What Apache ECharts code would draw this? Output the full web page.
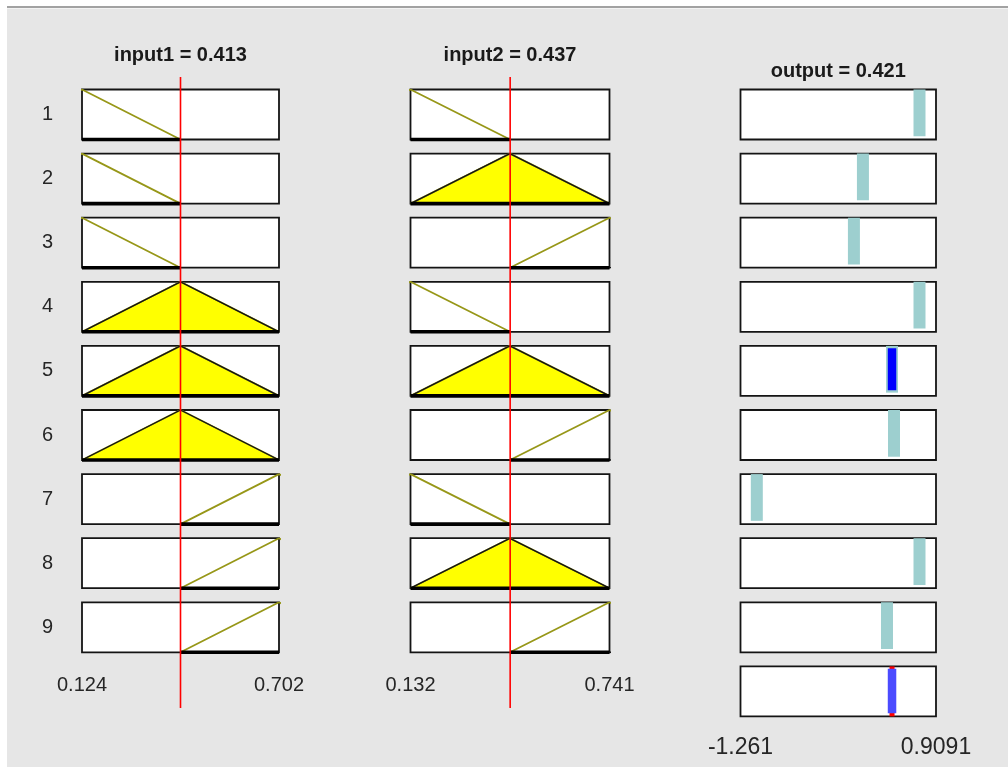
<!DOCTYPE html>
<html>
<head>
<meta charset="utf-8">
<script src="https://cdn.jsdelivr.net/npm/echarts@6/dist/echarts.min.js"></script>
<style>
  html, body { margin: 0; padding: 0; background: #ffffff; }
  #chart { width: 1008px; height: 767px; }
</style>
</head>
<body>
<div id="chart"></div>
<script>
// Rule view of a two-input, nine-rule Sugeno fuzzy system
const input1Name = 'input1';
const input2Name = 'input2';
const outputName = 'output';
const input1Range = [0.124, 0.702];
const input2Range = [0.132, 0.741];
const outputRange = [-1.261, 0.9091];
const input1Value = 0.413;
const input2Value = 0.437;
const outputValue = 0.421;
const input1TickLabels = ['0.124', '0.702'];
const input2TickLabels = ['0.132', '0.741'];
const outputTickLabels = ['-1.261', '0.9091'];
// triangular membership functions [a, b, c]: low, mid, high
const input1MFs = [[-0.165, 0.124, 0.413], [0.124, 0.413, 0.702], [0.413, 0.702, 0.991]];
const input2MFs = [[-0.1725, 0.132, 0.4365], [0.132, 0.4365, 0.741], [0.4365, 0.741, 1.0455]];
// rule antecedents (MF index per input) and constant consequents
const ruleInput1 = [0, 0, 0, 1, 1, 1, 2, 2, 2];
const ruleInput2 = [0, 1, 2, 0, 1, 2, 0, 1, 2];
const ruleOutputs = [0.726, 0.098, -0.002, 0.726, 0.421, 0.443, -1.08, 0.726, 0.365];
const ruleLabels = ['1', '2', '3', '4', '5', '6', '7', '8', '9'];

const FONT = "'Liberation Sans', Arial, sans-serif";
const COLS = [
  { left: 82, width: 197 },
  { left: 410.5, width: 199 },
  { left: 740.5, width: 195.5 }
];
const ROW_TOP = 89.5, ROW_STEP = 64.1, ROW_H = 50;
const OUT_YMIN = -0.07;
const FIRED_INSET = 0.05;

function membership(x, mf) {
  const [a, b, c] = mf;
  const up = b === a ? 1 : (x - a) / (b - a);
  const down = c === b ? 1 : (c - x) / (c - b);
  return Math.max(0, Math.min(up, down));
}

const grid = [], xAxis = [], yAxis = [], series = [];
const hidden = { show: false };

function addGrid(g, xr, yr, opts) {
  const gi = grid.length;
  grid.push(Object.assign({
    show: true, backgroundColor: '#ffffff', borderColor: '#141414', borderWidth: 1.8
  }, g));
  xAxis.push(Object.assign({
    gridIndex: gi, type: 'value', min: xr[0], max: xr[1],
    axisLine: hidden, axisTick: hidden, splitLine: hidden, axisLabel: hidden, show: true
  }, opts.x || {}));
  yAxis.push(Object.assign({
    gridIndex: gi, type: 'value', min: yr[0], max: yr[1],
    axisLine: hidden, axisTick: hidden, splitLine: hidden, axisLabel: hidden, show: true
  }, opts.y || {}));
  return gi;
}

function line(gi, data, style, extra) {
  series.push(Object.assign({
    type: 'line', xAxisIndex: gi, yAxisIndex: gi, data: data,
    symbol: 'none', silent: true, animation: false, lineStyle: style
  }, extra || {}));
}

const inputs = [
  { name: input1Name, range: input1Range, value: input1Value, mfs: input1MFs, rule: ruleInput1, ticks: input1TickLabels },
  { name: input2Name, range: input2Range, value: input2Value, mfs: input2MFs, rule: ruleInput2, ticks: input2TickLabels }
];

// firing strength of each rule (min of antecedent memberships)
const strengths = ruleLabels.map((_, r) =>
  Math.min(...inputs.map(inp => membership(inp.value, inp.mfs[inp.rule[r]]))));

inputs.forEach((inp, c) => {
  for (let r = 0; r < ruleLabels.length; r++) {
    const mf = inp.mfs[inp.rule[r]];
    const d = membership(inp.value, mf);
    const xOpts = {};
    if (r === 0) {
      Object.assign(xOpts, {
        position: 'top', name: inp.name + ' = ' + inp.value,
        nameLocation: 'middle', nameGap: 34,
        nameTextStyle: { fontFamily: FONT, fontWeight: 'bold', fontSize: 20, color: '#1a1a1a', verticalAlign: 'middle' }
      });
    }
    if (r === ruleLabels.length - 1) {
      Object.assign(xOpts, {
        position: 'bottom',
        axisLabel: {
          show: true, customValues: inp.range, margin: 23,
          fontFamily: FONT, fontSize: 20, color: '#262626',
          formatter: v => (v === inp.range[0] ? inp.ticks[0] : inp.ticks[1])
        }
      });
    }
    const yOpts = {};
    if (c === 0) {
      yOpts.axisLabel = {
        show: true, customValues: [0.5], margin: 29,
        fontFamily: FONT, fontSize: 20, color: '#262626',
        formatter: () => ruleLabels[r]
      };
    }
    const gi = addGrid(
      { left: COLS[c].left, width: COLS[c].width, top: ROW_TOP + ROW_STEP * r, height: ROW_H },
      inp.range, [0, 1], { x: xOpts, y: yOpts }
    );
    // membership function curve
    line(gi, [[mf[0], 0], [mf[1], 1], [mf[2], 0]], { color: '#979718', width: 1.8 });
    // area of the MF up to the input's membership degree
    if (d > 0) {
      line(gi, [[mf[0], 0], [mf[0] + d * (mf[1] - mf[0]), d], [mf[2] - d * (mf[2] - mf[1]), d], [mf[2], 0]],
        { color: '#141414', width: 1.4 }, { areaStyle: { color: '#ffff00', opacity: 1 } });
    }
    // support of the MF along the base
    line(gi, [[Math.max(mf[0], inp.range[0]), 0], [Math.min(mf[2], inp.range[1]), 0]],
      { color: '#000000', width: 3.6 }, { clip: false });
  }
});

// output column: one panel per rule plus the aggregated result
for (let r = 0; r <= ruleLabels.length; r++) {
  const xOpts = {};
  if (r === 0) {
    Object.assign(xOpts, {
      position: 'top', name: outputName + ' = ' + outputValue,
      nameLocation: 'middle', nameGap: 18,
      nameTextStyle: { fontFamily: FONT, fontWeight: 'bold', fontSize: 20, color: '#1a1a1a', verticalAlign: 'middle' }
    });
  }
  if (r === ruleLabels.length) {
    Object.assign(xOpts, {
      position: 'bottom',
      axisLabel: {
        show: true, customValues: outputRange, margin: 20,
        fontFamily: FONT, fontSize: 23, color: '#262626',
        formatter: v => (v === outputRange[0] ? outputTickLabels[0] : outputTickLabels[1])
      }
    });
  }
  const gi = addGrid(
    { left: COLS[2].left, width: COLS[2].width, top: ROW_TOP + ROW_STEP * r, height: ROW_H },
    outputRange, [OUT_YMIN, 1], { x: xOpts }
  );
  if (r < ruleLabels.length) {
    const z = ruleOutputs[r];
    line(gi, [[z, 0], [z, 1]], { color: '#9dcfcf', width: 12, cap: 'butt' });
    const w = strengths[r];
    if (w - FIRED_INSET > FIRED_INSET) {
      line(gi, [[z, FIRED_INSET], [z, w - FIRED_INSET]], { color: '#0000ff', width: 8.5, cap: 'butt' });
    }
  } else {
    const wMax = Math.max(...strengths);
    line(gi, [[outputValue, OUT_YMIN], [outputValue, 1]], { color: '#ff0000', width: 5, cap: 'butt' });
    line(gi, [[outputValue, 0], [outputValue, wMax * 0.95]], { color: '#4b4bff', width: 8.5, cap: 'butt' });
  }
}

// input value indicators spanning every rule row
inputs.forEach((inp, c) => {
  const gi = addGrid(
    { show: false, left: COLS[c].left, width: COLS[c].width, top: 77, height: 631 },
    inp.range, [0, 1], {}
  );
  line(gi, [[inp.value, 0], [inp.value, 1]], { color: '#ff0000', width: 1.6 }, { z: 10 });
});

const chart = echarts.init(document.getElementById('chart'), null, { renderer: 'canvas' });
chart.setOption({
  animation: false,
  backgroundColor: '#e6e6e6',
  graphic: [
    { type: 'rect', shape: { x: 0, y: 0, width: 1008, height: 6 }, style: { fill: '#ffffff' }, silent: true },
    { type: 'rect', shape: { x: 0, y: 0, width: 7, height: 767 }, style: { fill: '#ffffff' }, silent: true },
    { type: 'rect', shape: { x: 7, y: 6, width: 1001, height: 2 }, style: { fill: '#a2a2a2' }, silent: true },
    { type: 'rect', shape: { x: 7, y: 8, width: 1001, height: 1 }, style: { fill: '#f3f3f3' }, silent: true }
  ],
  grid, xAxis, yAxis, series
});
</script>
</body>
</html>
